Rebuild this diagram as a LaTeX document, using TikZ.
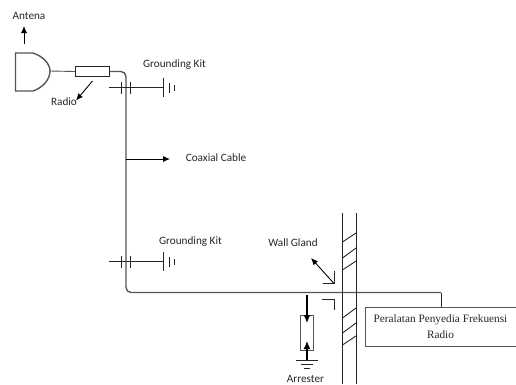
\documentclass[tikz,border=0pt]{standalone}
\usepackage{fontspec}
\setmainfont{Carlito}
\newfontfamily\serifcap{Liberation Serif}
\usetikzlibrary{arrows.meta}
\definecolor{cable}{HTML}{555555}
\tikzset{
 x=1pt,y=-1pt,
 lbl/.style={font=\fontsize{11.2}{13}\selectfont,text=black!85,inner sep=0pt},
 thin line/.style={draw=black!85,line width=0.9pt},
 cab/.style={draw=cable,line width=1.4pt},
 pointer/.style={draw=black,line width=0.9pt,-{Latex[length=7pt,width=6pt]}},
 pointerbold/.style={draw=black,line width=1.3pt,-{Latex[length=8pt,width=7pt]}}
}
\begin{document}
\begin{tikzpicture}
\useasboundingbox (0,0) rectangle (516,384);
% labels
\node[lbl] (antena) at (29,15.5) {Antena};
\node[lbl] (radio) at (64,102) {Radio};
\node[lbl] (gk1) at (174.5,64.5) {Grounding Kit};
\node[lbl] (coax) at (216,157.5) {Coaxial Cable};
\node[lbl] (gk2) at (190.5,241.5) {Grounding Kit};
\node[lbl] (wg) at (293,243) {Wall Gland};
\node[lbl] (arr) at (305.5,379) {Arrester};
% antenna
\draw[cab] (33,53) -- (15.5,53) -- (15.5,91) -- (33,91) .. controls (42,88) and (50,80) .. (50,71) .. controls (50,63) and (42,56) .. (33,53);
\coordinate (antout) at (50,71);
\node[draw=black!85,line width=0.9pt,fill=white,minimum width=34pt,minimum height=9.5pt,inner sep=0pt,anchor=west] (rbox) at (75,71.5) {};
\draw[cab,line width=0.9pt] (antout) -- (rbox.west);
\coordinate (c1) at (441,292.5);
\coordinate (c2) at (441,307);
\draw[cab,rounded corners=5pt] (rbox.east) -- (126,71.5) -- (126,292.5) -- (c1);
\draw[thin line] (c1) -- (c2);
% pointers
\coordinate (a1) at (24,44); \coordinate (a2) at (24,26);
\draw[pointer] (a1) -- (a2);
\coordinate (r1) at (92.5,81); \coordinate (r2) at (76,100.5);
\draw[pointer] (r1) -- (r2);
\coordinate (cc1) at (126,159); \coordinate (cc2) at (170,159);
\draw[pointer] (cc1) -- (cc2);
% grounding kits
\foreach \yy in {87.5,261.5}{
 \draw[thin line] (109,\yy) -- (163.5,\yy);
 \draw[thin line] (121,\yy-6) -- (121,\yy+6);
 \draw[thin line] (130.5,\yy-6) -- (130.5,\yy+6);
 \draw[thin line] (163.5,\yy-9.5) -- (163.5,\yy+9.5);
 \draw[thin line] (169,\yy-5) -- (169,\yy+5);
 \draw[thin line] (174,\yy-3) -- (174,\yy+3);
}
% wall
\draw[thin line] (342.5,213) -- (342.5,384);
\draw[thin line] (356,213) -- (356,384);
\foreach \ya/\yb in {242/233,258/248,270/261,318/308,333/323,345/336}{
 \draw[thin line] (342.5,\ya) -- (356,\yb);
}
% gland marks
\draw[thin line] (334.5,271) -- (334.5,283.5) -- (323,283.5);
\draw[thin line] (322,299) -- (334.5,299) -- (334.5,310);
\coordinate (w1) at (334,283.5); \coordinate (w2) at (311,258);
\draw[pointer] (w1) -- (w2);
% arrester
\node[draw=cable,line width=1pt,minimum width=12.5pt,minimum height=35pt,inner sep=0pt] (abox) at (307,332.5) {};
\coordinate (g1) at (307,360);
\coordinate (t1) at (307,294.5);
\draw[pointerbold] (t1) -- (307,323);
\draw[pointerbold] (g1) -- (307,341);
\draw[thin line] (296,360) -- (318,360);
\draw[thin line] (301,364.5) -- (313,364.5);
\draw[thin line] (304,368.5) -- (310,368.5);
% equipment
\node[draw=cable,line width=1pt,fill=white,inner sep=0pt,minimum width=151pt,minimum height=38.5pt,anchor=north west,
 font=\serifcap\fontsize{11.3}{16}\selectfont,align=center,text=black!85] (eq) at (364.5,307) {Peralatan Penyedia Frekuensi\\Radio};
\end{tikzpicture}
\end{document}
